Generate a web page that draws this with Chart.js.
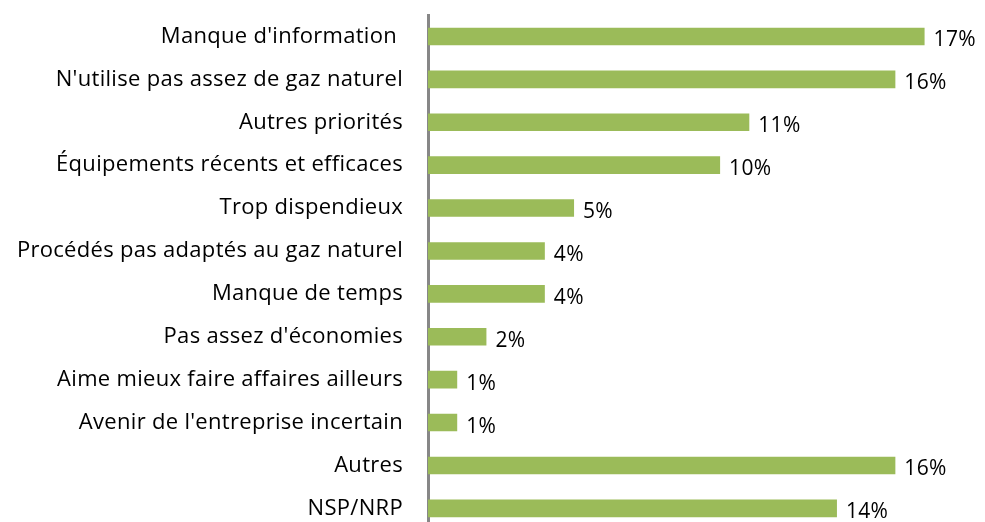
<!DOCTYPE html>
<html>
<head>
<meta charset="utf-8">
<script src="https://cdn.jsdelivr.net/npm/chart.js@4.4.1/dist/chart.umd.min.js"></script>
<style>
  html, body { margin: 0; padding: 0; background: #fff; overflow: hidden; }
</style>
</head>
<body>
<canvas id="myChart" width="985" height="543"></canvas>
<script>
// motifs (ordre du haut vers le bas)
const categories = [
  "Manque d'information ",
  "N'utilise pas assez de gaz naturel",
  "Autres priorités",
  "Équipements récents et efficaces",
  "Trop dispendieux",
  "Procédés pas adaptés au gaz naturel",
  "Manque de temps",
  "Pas assez d'économies",
  "Aime mieux faire affaires ailleurs",
  "Avenir de l'entreprise incertain",
  "Autres",
  "NSP/NRP"
];
const percentages = [17, 16, 11, 10, 5, 4, 4, 2, 1, 1, 16, 14];

const FONT = "'Open Sans', sans-serif";

// un peu d'espacement entre les lettres, comme dans l'original
const spacing = {
  id: 'spacing',
  beforeDraw(chart) { chart.ctx.letterSpacing = '0.3px'; }
};

// étiquettes de valeur à droite des barres
const valueLabels = {
  id: 'valueLabels',
  afterDatasetsDraw(chart) {
    const ctx = chart.ctx;
    const meta = chart.getDatasetMeta(0);
    ctx.save();
    ctx.font = '21px ' + FONT;
    ctx.fillStyle = '#000';
    ctx.textAlign = 'left';
    ctx.textBaseline = 'middle';
    meta.data.forEach((bar, i) => {
      ctx.fillText(percentages[i] + '%', bar.x + 9, bar.y + 4);
    });
    ctx.restore();
  }
};

const ctx = document.getElementById('myChart');
new Chart(ctx, {
  type: 'bar',
  data: {
    labels: categories,
    datasets: [{
      data: percentages,
      backgroundColor: '#9bbb59',
      borderWidth: 0,
      categoryPercentage: 1,
      barPercentage: 0.41
    }]
  },
  options: {
    responsive: false,
    indexAxis: 'y',
    animation: false,
    layout: { padding: { top: 15, bottom: 2, left: 0, right: 2 } },
    plugins: {
      legend: { display: false },
      tooltip: { enabled: false }
    },
    scales: {
      x: {
        display: false,
        min: 0,
        max: 19
      },
      y: {
        grid: { display: false, drawTicks: true, tickLength: 25, tickColor: 'rgba(0,0,0,0)' },
        border: { display: true, color: '#878787', width: 3 },
        ticks: {
          color: '#000',
          padding: 0,
          font: { family: FONT, size: 22 }
        },
        afterFit(scale) { scale.width = 428; }
      }
    }
  },
  plugins: [spacing, valueLabels]
});
</script>
</body>
</html>
